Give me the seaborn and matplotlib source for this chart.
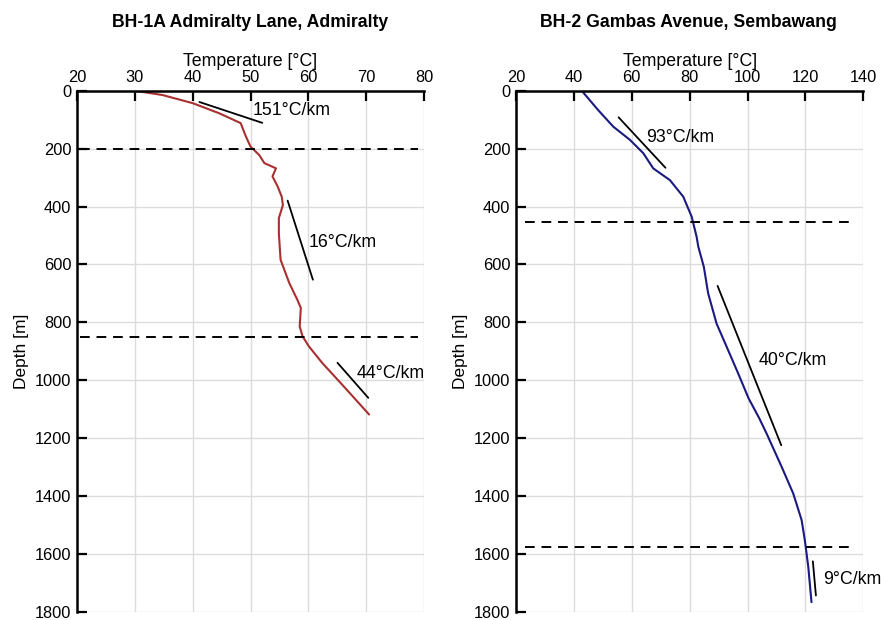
import matplotlib
matplotlib.use("Agg")
import matplotlib.pyplot as plt
import seaborn as sns

# --- BH-1A Admiralty Lane, Admiralty ---
bh1_temp = [30.0, 34.8, 40.0, 44.6, 48.3, 49.2, 50.0, 51.5, 52.4, 54.4, 53.8, 54.7,
            55.4, 55.6, 54.9, 54.9, 55.2, 56.7, 58.1, 58.7, 58.5, 59.0, 60.1, 62.4,
            65.3, 68.2, 70.5]
bh1_depth = [0, 15, 43, 78, 112, 158, 193, 222, 250, 268, 296, 331,
             366, 395, 440, 492, 584, 664, 722, 750, 814, 848, 883, 940,
             1003, 1067, 1118]

# --- BH-2 Gambas Avenue, Sembawang ---
bh2_temp = [42.7, 48.4, 53.6, 59.4, 64.0, 67.4, 73.2, 77.8, 80.7, 82.4, 83.0, 84.9,
            86.4, 89.3, 93.3, 96.8, 100.4, 104.0, 106.6, 111.8, 115.8, 118.7,
            119.8, 121.0, 122.1]
bh2_depth = [0, 67, 124, 170, 216, 268, 309, 366, 435, 504, 539, 608,
             700, 804, 896, 977, 1063, 1130, 1184, 1299, 1391, 1483,
             1552, 1645, 1766]

# Zone boundaries (m)
bh1_boundaries = [203, 852]
bh2_boundaries = [453, 1576]

# Gradient guides: gradient (°C/km), centre temperature, centre depth, depth span
bh1_gradients = [151, 16, 44]
bh1_grad_temp = [46.6, 58.6, 67.7]
bh1_grad_depth = [75.0, 516, 1000]
bh1_grad_span = [72, 273, 121]
bh1_label_pos = [(50.3, 70), (60.1, 525), (68.3, 977)]

bh2_gradients = [93, 40, 9]
bh2_grad_temp = [63.55, 100.65, 123.1]
bh2_grad_depth = [179, 949, 1684]
bh2_grad_span = [174, 550, 118]
bh2_label_pos = [(65.1, 161), (104.0, 931), (126.2, 1688)]

titles = ["BH-1A Admiralty Lane, Admiralty", "BH-2 Gambas Avenue, Sembawang"]

sns.set_theme(style="whitegrid")
plt.rcParams["font.family"] = ["Liberation Sans", "DejaVu Sans"]
plt.rcParams.update({"text.color": "black", "axes.labelcolor": "black",
                     "xtick.color": "black", "ytick.color": "black"})

fig = plt.figure(figsize=(8.81, 6.2), dpi=100)
ax1 = fig.add_axes([0.0874, 0.0129, 0.3939, 0.8408])
ax2 = fig.add_axes([0.5857, 0.0129, 0.3942, 0.8408])


def style_axis(ax, xlim, xticks):
    ax.set_xlim(*xlim)
    ax.set_ylim(1800, 0)
    ax.set_xticks(xticks)
    ax.set_yticks(range(0, 1801, 200))
    ax.xaxis.set_ticks_position("top")
    ax.xaxis.set_label_position("top")
    ax.set_xlabel("Temperature [°C]", fontsize=12.8, labelpad=3)
    ax.set_ylabel("Depth [m]", fontsize=12.5, labelpad=4)
    ax.grid(True, color="#dcdcdc", linewidth=1.0)
    ax.set_facecolor("white")
    for side in ("right", "bottom"):
        ax.spines[side].set_visible(False)
    for side in ("left", "top"):
        ax.spines[side].set_visible(True)
        ax.spines[side].set_color("black")
        ax.spines[side].set_linewidth(1.8)
    ax.tick_params(axis="both", which="major", direction="in", length=7,
                   width=1.6, color="black", labelsize=11.8, pad=4,
                   top=True, left=True, bottom=False, right=False)
    ax.tick_params(axis="x", pad=4)


def draw_profile(ax, temp, depth, color, boundaries, bnd_span,
                 grads, gtemp, gdepth, gspan, lpos):
    sns.lineplot(x=temp, y=depth, orient="y", sort=False, estimator=None,
                 color=color, linewidth=1.5, ax=ax)
    for d in boundaries:
        ax.plot(bnd_span, [d, d], color="black", linewidth=1.4,
                linestyle=(0, (5, 3.5)))
    for g, tc, dc, span, (lx, ly) in zip(grads, gtemp, gdepth, gspan, lpos):
        d0, d1 = dc - span / 2, dc + span / 2
        t0, t1 = tc - g * span / 2000, tc + g * span / 2000
        ax.plot([t0, t1], [d0, d1], color="black", linewidth=1.3)
        ax.text(lx, ly, f"{g}°C/km", fontsize=12.8, ha="left", va="center")


style_axis(ax1, (20, 80), range(20, 81, 10))
style_axis(ax2, (20, 140), range(20, 141, 20))

draw_profile(ax1, bh1_temp, bh1_depth, "#a83030", bh1_boundaries, [20.5, 79],
             bh1_gradients, bh1_grad_temp, bh1_grad_depth, bh1_grad_span,
             bh1_label_pos)
draw_profile(ax2, bh2_temp, bh2_depth, "#1a1a82", bh2_boundaries, [23, 137],
             bh2_gradients, bh2_grad_temp, bh2_grad_depth, bh2_grad_span,
             bh2_label_pos)

fig.text(0.2838, 0.9645, titles[0], ha="center", va="center",
         fontsize=12.7, fontweight="bold")
fig.text(0.781, 0.9645, titles[1], ha="center", va="center",
         fontsize=12.7, fontweight="bold")

fig.savefig("out.png", dpi=100, facecolor="white")
